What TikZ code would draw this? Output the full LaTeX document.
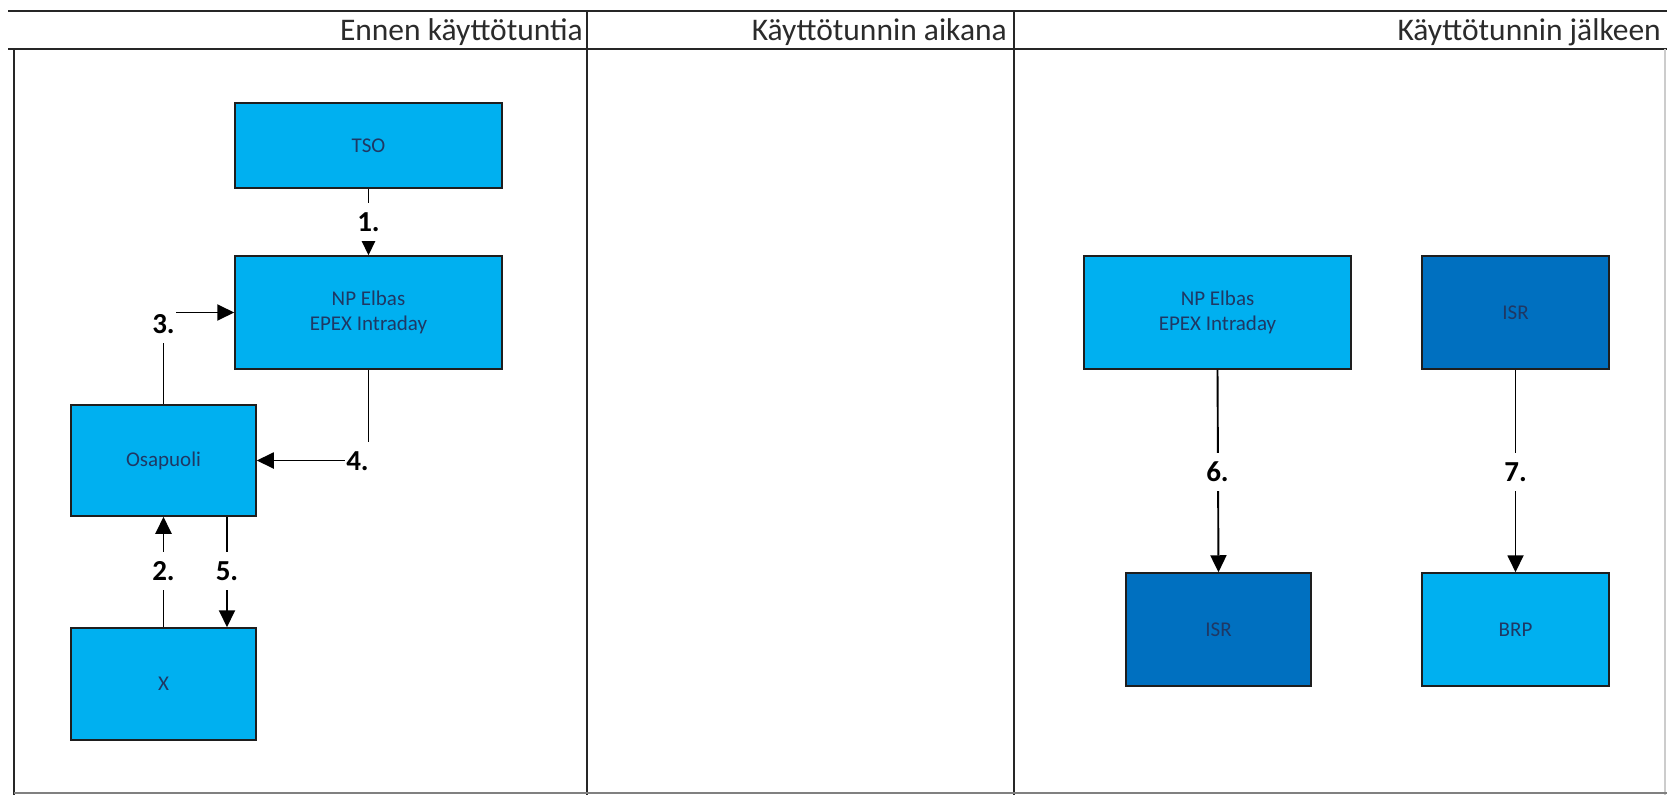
\documentclass[tikz,border=0pt]{standalone}
\usepackage{fontspec}
\setmainfont{Carlito}
\usetikzlibrary{arrows.meta}
\definecolor{lblue}{HTML}{00B0F0}
\definecolor{dblue}{HTML}{0070C0}
\definecolor{boxtext}{HTML}{1F3864}
\definecolor{boxline}{HTML}{1E1E1E}
\definecolor{hdrc}{HTML}{2B2B2B}
\definecolor{gridc}{HTML}{262626}
\begin{document}
\begin{tikzpicture}[x=1pt,y=-1pt,
  box/.style={draw=boxline, line width=1.5pt, fill=lblue, text=boxtext, font=\fontsize{21}{25}\selectfont, align=center, inner sep=0pt},
  dbox/.style={box, fill=dblue},
  arr/.style={draw=black, line width=1.9pt, -{Triangle[length=17pt,width=16pt]}},
  lbl/.style={fill=white, font=\bfseries\fontsize{29}{29}\selectfont, text height=18pt, text depth=0pt, inner xsep=1pt, inner ysep=10pt},
  hdr/.style={font=\fontsize{31.5}{34}\selectfont, text=hdrc, anchor=base east, inner sep=0pt},
  gridline/.style={draw=gridc, line width=2pt}]
\useasboundingbox (0,0) rectangle (1667,795);
\fill[white] (0,0) rectangle (1667,795);
% table
\draw[gridline] (8,11) -- (1667,11);
\draw[gridline] (8,49) -- (1667,49);
\draw[gridline] (14,49) -- (14,795);
\draw[gridline] (587,11) -- (587,795);
\draw[gridline] (1014,11) -- (1014,795);
\draw[draw=gray!40, line width=1.5pt] (1665,49) -- (1665,795);
\draw[draw=gray, line width=2pt] (14,793) -- (1667,793);
\node[hdr] (h1) at (583,40) {Ennen käyttötuntia};
\node[hdr] (h2) at (1007,40) {Käyttötunnin aikana};
\node[hdr] (h3) at (1661,40) {Käyttötunnin jälkeen};
% boxes
\node[box, minimum width=267pt, minimum height=85pt] (tso) at (368.5,145.5) {TSO};
\node[box, minimum width=267pt, minimum height=113pt] (np1) at (368.5,312.5) {NP Elbas\\EPEX Intraday};
\node[box, minimum width=185pt, minimum height=111pt] (osa) at (163.5,460.5) {Osapuoli};
\node[box, minimum width=185pt, minimum height=112pt] (xx) at (163.5,684) {X};
\node[box, minimum width=267pt, minimum height=113pt] (np2) at (1217.5,312.5) {NP Elbas\\EPEX Intraday};
\node[dbox, minimum width=187pt, minimum height=113pt] (isr1) at (1515.5,312.5) {ISR};
\node[dbox, minimum width=185pt, minimum height=113pt] (isr2) at (1218.5,629.5) {ISR};
\node[box, minimum width=187pt, minimum height=113pt] (brp) at (1515.5,629.5) {BRP};
% connectors
\draw[arr] (tso.south) -- (np1.north);
\draw[arr] (osa.north) |- (np1.west);
\draw[arr] (np1.south) |- (osa.east);
\draw[arr] (xx.north) -- (osa.south);
\draw[arr] ([xshift=63.5pt]osa.south) -- ([xshift=63.5pt]xx.north);
\draw[arr] (np2.south) -- (isr2.north);
\draw[arr] (isr1.south) -- (brp.north);
% labels
\node[lbl] (l1) at (368.5,222) {1.};
\node[lbl] (l3) at (163.5,324) {3.};
\node[lbl] (l4) at (357.5,461) {4.};
\node[lbl] (l2) at (163.5,571) {2.};
\node[lbl] (l5) at (227,571) {5.};
\node[lbl] (l6) at (1217.5,472) {6.};
\node[lbl] (l7) at (1515.5,472) {7.};
\end{tikzpicture}
\end{document}
